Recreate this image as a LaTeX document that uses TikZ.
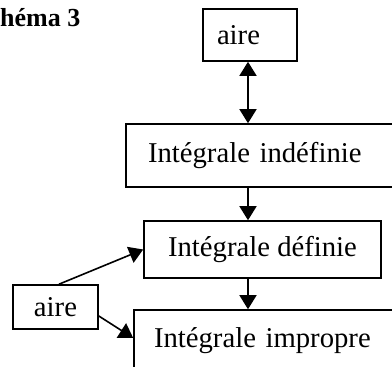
\documentclass[tikz,border=0pt]{standalone}
\usepackage{fontspec}
\setmainfont{Liberation Serif}
\usepackage{tikz}
\usetikzlibrary{calc,arrows.meta}

\begin{document}
\begin{tikzpicture}[x=1pt,y=-1pt]
                      \tikzstyle{box}=[draw=black,line width=1.6pt,inner sep=0pt,font=\fontsize{28.7}{34}\selectfont]
                      \tikzstyle{fleche}=[line width=1.6pt,-{Triangle[length=14pt,width=17pt]}]
                      \tikzstyle{doublefleche}=[line width=1.6pt,{Triangle[length=14pt,width=17pt]}-{Triangle[length=14pt,width=17pt]}]
                      \useasboundingbox (0,0) rectangle (392,367);
                      \clip (0,0) rectangle (392,367);
                      \node [anchor=base west,inner sep=0pt,font=\fontsize{26}{30}\selectfont\bfseries] (t) at (0,26) {héma 3};
                      \node [box,inner xsep=14pt,text width=66pt,align=left,minimum height=52pt] (a) at (250,35) {aire};
                      \node [box,inner xsep=22pt,text width=230pt,align=left,minimum height=63pt] (b) at (263,155.5) {Intégrale indéfinie};
                      \node [box,minimum width=237pt,minimum height=57pt] (c) at (262.5,249.5) {Intégrale définie};
                      \node [box,inner xsep=20pt,text width=226pt,align=left,minimum height=62pt] (d) at (267,341) {Intégrale impropre};
                      \node [box,minimum width=85pt,minimum height=44pt] (e) at (55.5,307) {aire};
                      \coordinate (m) at (248,0);
                      \coordinate (n) at (59,0);
                      \draw[doublefleche] (a.south -| m) -- (b.north -| m);
                      \draw[fleche] (b.south -| m) -- (c.north -| m);
                      \draw[fleche] (c.south -| m) -- (d.north -| m);
                      \draw[fleche] (e.north -| n) -- (c.west);
                      \draw[fleche] ([yshift=-9pt]e.east) -- ([yshift=3pt]d.west);
                  \end{tikzpicture}
\end{document}
